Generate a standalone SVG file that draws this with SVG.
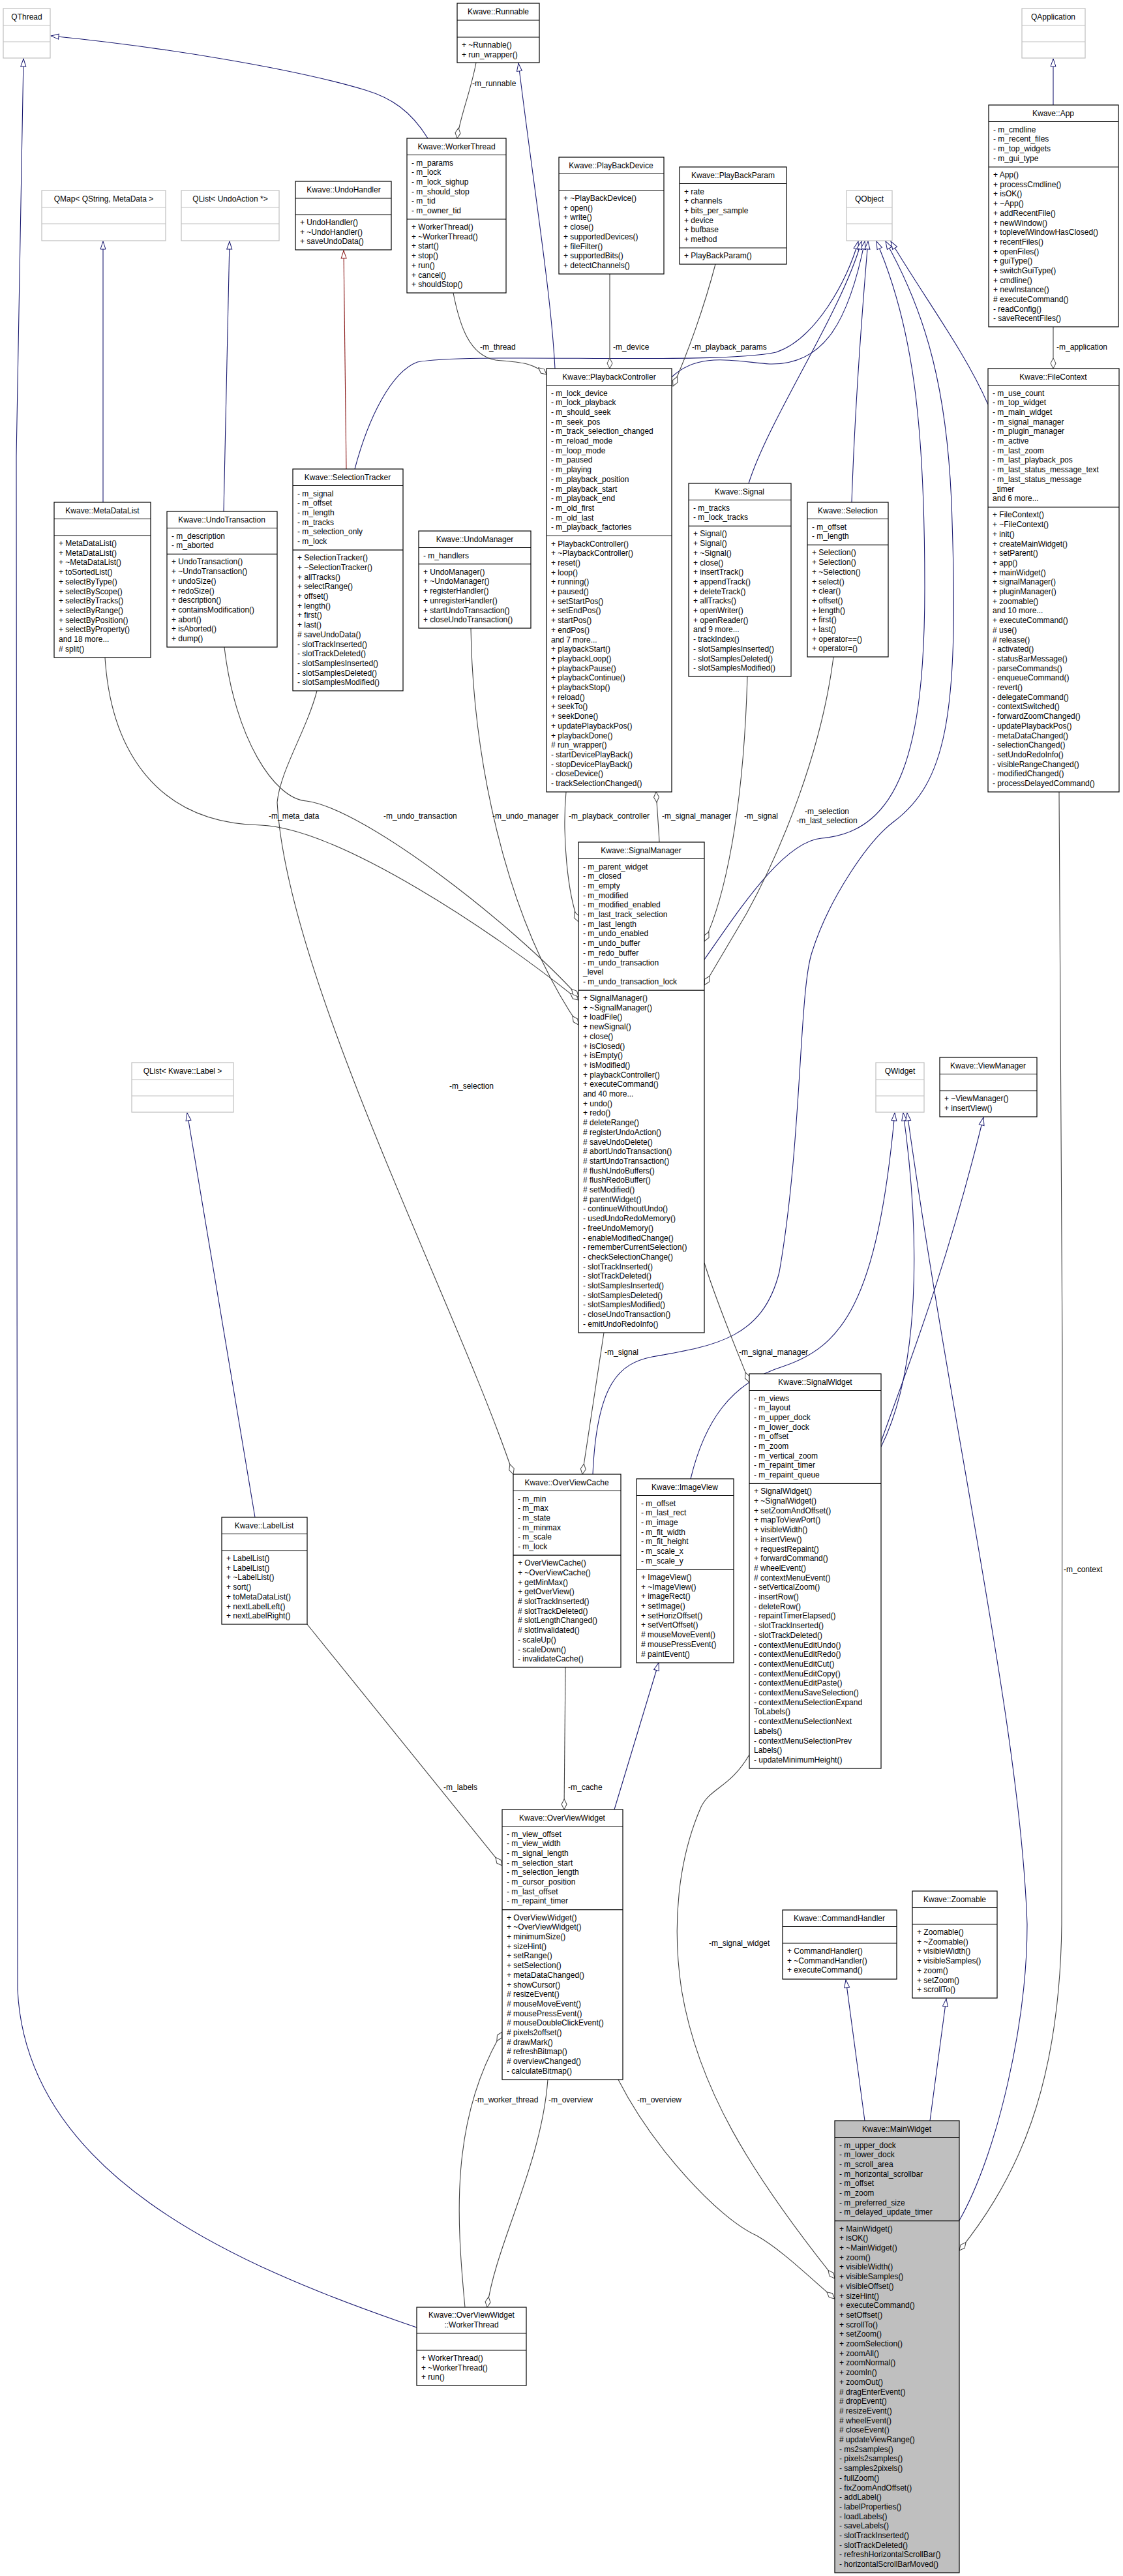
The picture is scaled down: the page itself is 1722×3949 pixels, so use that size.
<svg xmlns="http://www.w3.org/2000/svg" width="1722" height="3949" viewBox="0 0 1722 3949">
<style>
text{font-family:"Liberation Sans",Arial,sans-serif;font-size:12px;fill:#000}
.c{text-anchor:middle}
.k{fill:#fff;stroke:#000;stroke-width:1.2}
.q{fill:#fff;stroke:#bfbfbf;stroke-width:1.2}
.mw{fill:#bfbfbf;stroke:#000;stroke-width:1.2}
.s{stroke:#000;stroke-width:1.2}
.sg{stroke:#bfbfbf;stroke-width:1.2}
.i{fill:none;stroke:#191970;stroke-width:1.1;marker-end:url(#tri)}
.r{fill:none;stroke:#8b1a1a;stroke-width:1.1;marker-end:url(#trir)}
.a{fill:none;stroke:#404040;stroke-width:1.1;marker-end:url(#dia)}
</style>
<defs>
<marker id="tri" markerUnits="userSpaceOnUse" markerWidth="14" markerHeight="10" viewBox="0 0 14 10" refX="13" refY="5" orient="auto"><path d="M1,1 L13,5 L1,9 Z" fill="#fff" stroke="#191970"/></marker>
<marker id="trir" markerUnits="userSpaceOnUse" markerWidth="14" markerHeight="10" viewBox="0 0 14 10" refX="13" refY="5" orient="auto"><path d="M1,1 L13,5 L1,9 Z" fill="#fff" stroke="#8b1a1a"/></marker>
<marker id="dia" markerUnits="userSpaceOnUse" markerWidth="18" markerHeight="10" viewBox="0 0 18 10" refX="17" refY="5" orient="auto"><path d="M1,5 L9,1 L17,5 L9,9 Z" fill="#fff" stroke="#404040"/></marker>
</defs>
<rect width="1722" height="3949" fill="#fff"/>
<g id="edges">
<path class="i" d="M656,212 C630,170 600,150 560,138 C450,105 250,72 78,55"/>
<path class="i" d="M639,3568 C350,3470 40,3330 27,3050 L25,700 L36,90"/>
<path class="i" d="M851,565 C845,450 820,300 795,97"/>
<path class="i" d="M158,770 L158,370"/>
<path class="i" d="M343,784 L352,370"/>
<path class="r" d="M531,719 L527,384"/>
<path class="i" d="M544,719 C565,640 600,570 640,555 C720,540 1100,560 1190,540 C1250,520 1300,430 1316,370"/>
<path class="i" d="M1030,578 C1070,540 1120,553 1180,558 C1260,560 1300,500 1326,370"/>
<path class="i" d="M1148,741 C1180,640 1290,480 1321,370"/>
<path class="i" d="M1306,770 C1310,650 1320,500 1331,370"/>
<path class="i" d="M1080,1471 C1130,1400 1200,1290 1260,1285 C1380,1275 1418,1150 1418,900 C1418,650 1400,500 1344,370"/>
<path class="i" d="M909,2260 C915,2120 950,2090 1000,2080 C1100,2063 1170,2050 1195,1950 C1230,1750 1225,1520 1245,1460 C1270,1380 1330,1290 1370,1260 C1450,1200 1470,1100 1460,800 C1455,600 1420,480 1358,370"/>
<path class="i" d="M1515,620 C1480,540 1420,460 1366,370"/>
<path class="i" d="M1615,161 L1615,90"/>
<path class="i" d="M1351,2218 C1410,2100 1412,1900 1385,1706"/>
<path class="i" d="M1351,2210 C1390,2100 1450,1950 1508,1713"/>
<path class="i" d="M1059,2267 C1080,2180 1120,2120 1200,2095 C1290,2065 1345,2000 1372,1706"/>
<path class="i" d="M1471,3404 C1530,3300 1575,3100 1575,2950 C1565,2650 1460,2200 1391,1706"/>
<path class="i" d="M942,2774 L1010,2549"/>
<path class="i" d="M391,2326 L287,1706"/>
<path class="i" d="M1326,3251 L1297,3035"/>
<path class="i" d="M1426,3251 L1451,3064"/>
<path class="a" d="M730,96 C722,140 705,180 701,212"/>
<path class="a" d="M695,449 C705,500 720,545 760,552 C800,556 815,555 838,574"/>
<path class="a" d="M935,420 L935,565"/>
<path class="a" d="M1097,405 C1080,470 1055,540 1032,592"/>
<path class="a" d="M1615,501 L1615,565"/>
<path class="a" d="M161,1008 C170,1150 240,1262 400,1265 C520,1270 760,1430 887,1533"/>
<path class="a" d="M344,992 C360,1130 420,1225 470,1228 C560,1240 790,1420 887,1528"/>
<path class="a" d="M722,963 C725,1150 770,1400 887,1571"/>
<path class="a" d="M868,1214 C862,1280 870,1370 887,1413"/>
<path class="a" d="M1011,1291 C1010,1270 1008,1245 1006,1214"/>
<path class="a" d="M1146,1037 C1140,1250 1110,1380 1080,1443"/>
<path class="a" d="M1278,1007 C1260,1150 1200,1300 1145,1400 L1080,1510"/>
<path class="a" d="M1080,1936 C1100,2000 1130,2070 1149,2119"/>
<path class="a" d="M926,2043 L893,2260"/>
<path class="a" d="M486,1059 C470,1120 430,1180 425,1230 C440,1500 700,2000 787,2260"/>
<path class="a" d="M867,2556 L865,2774"/>
<path class="a" d="M471,2490 L770,2860"/>
<path class="a" d="M713,3537 C700,3400 690,3250 770,3115"/>
<path class="a" d="M840,3188 C830,3320 760,3440 747,3537"/>
<path class="a" d="M948,3188 C1000,3290 1100,3400 1160,3427 C1200,3450 1240,3490 1280,3524"/>
<path class="a" d="M1149,2690 C1120,2740 1090,2740 1075,2770 C1040,2850 1030,2950 1045,3050 C1070,3200 1150,3330 1280,3493"/>
<path class="a" d="M1624,1214 C1630,1600 1630,2600 1628,2950 C1625,3200 1560,3340 1471,3450"/>
<text x="724" y="132">-m_runnable</text>
<text x="736" y="536">-m_thread</text>
<text x="940" y="536">-m_device</text>
<text x="1061" y="536">-m_playback_params</text>
<text x="1620" y="536">-m_application</text>
<text x="412" y="1255">-m_meta_data</text>
<text x="588" y="1255">-m_undo_transaction</text>
<text x="755" y="1255">-m_undo_manager</text>
<text x="872" y="1255">-m_playback_controller</text>
<text x="1015" y="1255">-m_signal_manager</text>
<text x="1141" y="1255">-m_signal</text>
<text class="c" x="1268" y="1248">-m_selection</text>
<text class="c" x="1268" y="1262">-m_last_selection</text>
<text x="689" y="1669">-m_selection</text>
<text x="927" y="2077">-m_signal</text>
<text x="1133" y="2077">-m_signal_manager</text>
<text x="1631" y="2410">-m_context</text>
<text x="680" y="2744">-m_labels</text>
<text x="871" y="2744">-m_cache</text>
<text x="1087" y="2983">-m_signal_widget</text>
<text x="728" y="3223">-m_worker_thread</text>
<text x="841" y="3223">-m_overview</text>
<text x="977" y="3223">-m_overview</text>
</g>
<g id="QThread"><rect class="q" x="5" y="13" width="72" height="76"/><line class="sg" x1="5" y1="39" x2="77" y2="39"/><line class="sg" x1="5" y1="64" x2="77" y2="64"/><text class="c" x="41" y="30">QThread</text></g>
<g id="Runnable"><rect class="k" x="701" y="5" width="126" height="91"/><line class="s" x1="701" y1="31" x2="827" y2="31"/><line class="s" x1="701" y1="57" x2="827" y2="57"/><text class="c" x="764" y="22">Kwave::Runnable</text><text x="708" y="73"><tspan>+ ~Runnable()</tspan><tspan x="708" dy="14.7">+ run_wrapper()</tspan></text></g>
<g id="WorkerThread"><rect class="k" x="624" y="212" width="152" height="237"/><line class="s" x1="624" y1="237.5" x2="776" y2="237.5"/><line class="s" x1="624" y1="336" x2="776" y2="336"/><text class="c" x="700" y="229">Kwave::WorkerThread</text><text x="631" y="253.5"><tspan>- m_params</tspan><tspan x="631" dy="14.7">- m_lock</tspan><tspan x="631" dy="14.7">- m_lock_sighup</tspan><tspan x="631" dy="14.7">- m_should_stop</tspan><tspan x="631" dy="14.7">- m_tid</tspan><tspan x="631" dy="14.7">- m_owner_tid</tspan></text><text x="631" y="352"><tspan>+ WorkerThread()</tspan><tspan x="631" dy="14.7">+ ~WorkerThread()</tspan><tspan x="631" dy="14.7">+ start()</tspan><tspan x="631" dy="14.7">+ stop()</tspan><tspan x="631" dy="14.7">+ run()</tspan><tspan x="631" dy="14.7">+ cancel()</tspan><tspan x="631" dy="14.7">+ shouldStop()</tspan></text></g>
<g id="QMap"><rect class="q" x="64" y="292" width="190" height="77"/><line class="sg" x1="64" y1="318" x2="254" y2="318"/><line class="sg" x1="64" y1="343" x2="254" y2="343"/><text class="c" x="159" y="309">QMap&lt; QString, MetaData &gt;</text></g>
<g id="QListUndoAction"><rect class="q" x="278" y="292" width="150" height="77"/><line class="sg" x1="278" y1="318" x2="428" y2="318"/><line class="sg" x1="278" y1="343" x2="428" y2="343"/><text class="c" x="353" y="309">QList&lt; UndoAction *&gt;</text></g>
<g id="UndoHandler"><rect class="k" x="453" y="278" width="147" height="105"/><line class="s" x1="453" y1="304" x2="600" y2="304"/><line class="s" x1="453" y1="329" x2="600" y2="329"/><text class="c" x="527" y="295">Kwave::UndoHandler</text><text x="460" y="345"><tspan>+ UndoHandler()</tspan><tspan x="460" dy="14.7">+ ~UndoHandler()</tspan><tspan x="460" dy="14.7">+ saveUndoData()</tspan></text></g>
<g id="PlayBackDevice"><rect class="k" x="857" y="241" width="161" height="179"/><line class="s" x1="857" y1="266.5" x2="1018" y2="266.5"/><line class="s" x1="857" y1="292" x2="1018" y2="292"/><text class="c" x="937" y="258">Kwave::PlayBackDevice</text><text x="864" y="308"><tspan>+ ~PlayBackDevice()</tspan><tspan x="864" dy="14.7">+ open()</tspan><tspan x="864" dy="14.7">+ write()</tspan><tspan x="864" dy="14.7">+ close()</tspan><tspan x="864" dy="14.7">+ supportedDevices()</tspan><tspan x="864" dy="14.7">+ fileFilter()</tspan><tspan x="864" dy="14.7">+ supportedBits()</tspan><tspan x="864" dy="14.7">+ detectChannels()</tspan></text></g>
<g id="PlayBackParam"><rect class="k" x="1042" y="256" width="164" height="149"/><line class="s" x1="1042" y1="281.5" x2="1206" y2="281.5"/><line class="s" x1="1042" y1="380" x2="1206" y2="380"/><text class="c" x="1124" y="273">Kwave::PlayBackParam</text><text x="1049" y="297.5"><tspan>+ rate</tspan><tspan x="1049" dy="14.7">+ channels</tspan><tspan x="1049" dy="14.7">+ bits_per_sample</tspan><tspan x="1049" dy="14.7">+ device</tspan><tspan x="1049" dy="14.7">+ bufbase</tspan><tspan x="1049" dy="14.7">+ method</tspan></text><text x="1049" y="396">+ PlayBackParam()</text></g>
<g id="QObject"><rect class="q" x="1298" y="292" width="70" height="77"/><line class="sg" x1="1298" y1="318" x2="1368" y2="318"/><line class="sg" x1="1298" y1="343" x2="1368" y2="343"/><text class="c" x="1333" y="309">QObject</text></g>
<g id="QApplication"><rect class="q" x="1567" y="13" width="97" height="76"/><line class="sg" x1="1567" y1="39" x2="1664" y2="39"/><line class="sg" x1="1567" y1="64" x2="1664" y2="64"/><text class="c" x="1615" y="30">QApplication</text></g>
<g id="App"><rect class="k" x="1516" y="161" width="199" height="340"/><line class="s" x1="1516" y1="186.5" x2="1715" y2="186.5"/><line class="s" x1="1516" y1="256" x2="1715" y2="256"/><text class="c" x="1615" y="178">Kwave::App</text><text x="1523" y="202.5"><tspan>- m_cmdline</tspan><tspan x="1523" dy="14.7">- m_recent_files</tspan><tspan x="1523" dy="14.7">- m_top_widgets</tspan><tspan x="1523" dy="14.7">- m_gui_type</tspan></text><text x="1523" y="272"><tspan>+ App()</tspan><tspan x="1523" dy="14.7">+ processCmdline()</tspan><tspan x="1523" dy="14.7">+ isOK()</tspan><tspan x="1523" dy="14.7">+ ~App()</tspan><tspan x="1523" dy="14.7">+ addRecentFile()</tspan><tspan x="1523" dy="14.7">+ newWindow()</tspan><tspan x="1523" dy="14.7">+ toplevelWindowHasClosed()</tspan><tspan x="1523" dy="14.7">+ recentFiles()</tspan><tspan x="1523" dy="14.7">+ openFiles()</tspan><tspan x="1523" dy="14.7">+ guiType()</tspan><tspan x="1523" dy="14.7">+ switchGuiType()</tspan><tspan x="1523" dy="14.7">+ cmdline()</tspan><tspan x="1523" dy="14.7">+ newInstance()</tspan><tspan x="1523" dy="14.7"># executeCommand()</tspan><tspan x="1523" dy="14.7">- readConfig()</tspan><tspan x="1523" dy="14.7">- saveRecentFiles()</tspan></text></g>
<g id="PlaybackController"><rect class="k" x="838" y="565" width="192" height="649"/><line class="s" x1="838" y1="590.5" x2="1030" y2="590.5"/><line class="s" x1="838" y1="821.5" x2="1030" y2="821.5"/><text class="c" x="934" y="582">Kwave::PlaybackController</text><text x="845" y="606.5"><tspan>- m_lock_device</tspan><tspan x="845" dy="14.7">- m_lock_playback</tspan><tspan x="845" dy="14.7">- m_should_seek</tspan><tspan x="845" dy="14.7">- m_seek_pos</tspan><tspan x="845" dy="14.7">- m_track_selection_changed</tspan><tspan x="845" dy="14.7">- m_reload_mode</tspan><tspan x="845" dy="14.7">- m_loop_mode</tspan><tspan x="845" dy="14.7">- m_paused</tspan><tspan x="845" dy="14.7">- m_playing</tspan><tspan x="845" dy="14.7">- m_playback_position</tspan><tspan x="845" dy="14.7">- m_playback_start</tspan><tspan x="845" dy="14.7">- m_playback_end</tspan><tspan x="845" dy="14.7">- m_old_first</tspan><tspan x="845" dy="14.7">- m_old_last</tspan><tspan x="845" dy="14.7">- m_playback_factories</tspan></text><text x="845" y="837.5"><tspan>+ PlaybackController()</tspan><tspan x="845" dy="14.7">+ ~PlaybackController()</tspan><tspan x="845" dy="14.7">+ reset()</tspan><tspan x="845" dy="14.7">+ loop()</tspan><tspan x="845" dy="14.7">+ running()</tspan><tspan x="845" dy="14.7">+ paused()</tspan><tspan x="845" dy="14.7">+ setStartPos()</tspan><tspan x="845" dy="14.7">+ setEndPos()</tspan><tspan x="845" dy="14.7">+ startPos()</tspan><tspan x="845" dy="14.7">+ endPos()</tspan><tspan x="845" dy="14.7">and 7 more...</tspan><tspan x="845" dy="14.7">+ playbackStart()</tspan><tspan x="845" dy="14.7">+ playbackLoop()</tspan><tspan x="845" dy="14.7">+ playbackPause()</tspan><tspan x="845" dy="14.7">+ playbackContinue()</tspan><tspan x="845" dy="14.7">+ playbackStop()</tspan><tspan x="845" dy="14.7">+ reload()</tspan><tspan x="845" dy="14.7">+ seekTo()</tspan><tspan x="845" dy="14.7">+ seekDone()</tspan><tspan x="845" dy="14.7">+ updatePlaybackPos()</tspan><tspan x="845" dy="14.7">+ playbackDone()</tspan><tspan x="845" dy="14.7"># run_wrapper()</tspan><tspan x="845" dy="14.7">- startDevicePlayBack()</tspan><tspan x="845" dy="14.7">- stopDevicePlayBack()</tspan><tspan x="845" dy="14.7">- closeDevice()</tspan><tspan x="845" dy="14.7">- trackSelectionChanged()</tspan></text></g>
<g id="FileContext"><rect class="k" x="1515" y="565" width="201" height="649"/><line class="s" x1="1515" y1="590.5" x2="1716" y2="590.5"/><line class="s" x1="1515" y1="777.4" x2="1716" y2="777.4"/><text class="c" x="1615" y="582">Kwave::FileContext</text><text x="1522" y="606.5"><tspan>- m_use_count</tspan><tspan x="1522" dy="14.7">- m_top_widget</tspan><tspan x="1522" dy="14.7">- m_main_widget</tspan><tspan x="1522" dy="14.7">- m_signal_manager</tspan><tspan x="1522" dy="14.7">- m_plugin_manager</tspan><tspan x="1522" dy="14.7">- m_active</tspan><tspan x="1522" dy="14.7">- m_last_zoom</tspan><tspan x="1522" dy="14.7">- m_last_playback_pos</tspan><tspan x="1522" dy="14.7">- m_last_status_message_text</tspan><tspan x="1522" dy="14.7">- m_last_status_message</tspan><tspan x="1522" dy="14.7">_timer</tspan><tspan x="1522" dy="14.7">and 6 more...</tspan></text><text x="1522" y="793.4"><tspan>+ FileContext()</tspan><tspan x="1522" dy="14.7">+ ~FileContext()</tspan><tspan x="1522" dy="14.7">+ init()</tspan><tspan x="1522" dy="14.7">+ createMainWidget()</tspan><tspan x="1522" dy="14.7">+ setParent()</tspan><tspan x="1522" dy="14.7">+ app()</tspan><tspan x="1522" dy="14.7">+ mainWidget()</tspan><tspan x="1522" dy="14.7">+ signalManager()</tspan><tspan x="1522" dy="14.7">+ pluginManager()</tspan><tspan x="1522" dy="14.7">+ zoomable()</tspan><tspan x="1522" dy="14.7">and 10 more...</tspan><tspan x="1522" dy="14.7">+ executeCommand()</tspan><tspan x="1522" dy="14.7"># use()</tspan><tspan x="1522" dy="14.7"># release()</tspan><tspan x="1522" dy="14.7">- activated()</tspan><tspan x="1522" dy="14.7">- statusBarMessage()</tspan><tspan x="1522" dy="14.7">- parseCommands()</tspan><tspan x="1522" dy="14.7">- enqueueCommand()</tspan><tspan x="1522" dy="14.7">- revert()</tspan><tspan x="1522" dy="14.7">- delegateCommand()</tspan><tspan x="1522" dy="14.7">- contextSwitched()</tspan><tspan x="1522" dy="14.7">- forwardZoomChanged()</tspan><tspan x="1522" dy="14.7">- updatePlaybackPos()</tspan><tspan x="1522" dy="14.7">- metaDataChanged()</tspan><tspan x="1522" dy="14.7">- selectionChanged()</tspan><tspan x="1522" dy="14.7">- setUndoRedoInfo()</tspan><tspan x="1522" dy="14.7">- visibleRangeChanged()</tspan><tspan x="1522" dy="14.7">- modifiedChanged()</tspan><tspan x="1522" dy="14.7">- processDelayedCommand()</tspan></text></g>
<g id="MetaDataList"><rect class="k" x="83" y="770" width="148" height="238"/><line class="s" x1="83" y1="795.5" x2="231" y2="795.5"/><line class="s" x1="83" y1="821" x2="231" y2="821"/><text class="c" x="157" y="787">Kwave::MetaDataList</text><text x="90" y="837"><tspan>+ MetaDataList()</tspan><tspan x="90" dy="14.7">+ MetaDataList()</tspan><tspan x="90" dy="14.7">+ ~MetaDataList()</tspan><tspan x="90" dy="14.7">+ toSortedList()</tspan><tspan x="90" dy="14.7">+ selectByType()</tspan><tspan x="90" dy="14.7">+ selectByScope()</tspan><tspan x="90" dy="14.7">+ selectByTracks()</tspan><tspan x="90" dy="14.7">+ selectByRange()</tspan><tspan x="90" dy="14.7">+ selectByPosition()</tspan><tspan x="90" dy="14.7">+ selectByProperty()</tspan><tspan x="90" dy="14.7">and 18 more...</tspan><tspan x="90" dy="14.7"># split()</tspan></text></g>
<g id="UndoTransaction"><rect class="k" x="256" y="784" width="169" height="208"/><line class="s" x1="256" y1="809.5" x2="425" y2="809.5"/><line class="s" x1="256" y1="849.4" x2="425" y2="849.4"/><text class="c" x="340" y="801">Kwave::UndoTransaction</text><text x="263" y="825.5"><tspan>- m_description</tspan><tspan x="263" dy="14.7">- m_aborted</tspan></text><text x="263" y="865.4"><tspan>+ UndoTransaction()</tspan><tspan x="263" dy="14.7">+ ~UndoTransaction()</tspan><tspan x="263" dy="14.7">+ undoSize()</tspan><tspan x="263" dy="14.7">+ redoSize()</tspan><tspan x="263" dy="14.7">+ description()</tspan><tspan x="263" dy="14.7">+ containsModification()</tspan><tspan x="263" dy="14.7">+ abort()</tspan><tspan x="263" dy="14.7">+ isAborted()</tspan><tspan x="263" dy="14.7">+ dump()</tspan></text></g>
<g id="SelectionTracker"><rect class="k" x="449" y="719" width="169" height="340"/><line class="s" x1="449" y1="744.5" x2="618" y2="744.5"/><line class="s" x1="449" y1="843.2" x2="618" y2="843.2"/><text class="c" x="533" y="736">Kwave::SelectionTracker</text><text x="456" y="760.5"><tspan>- m_signal</tspan><tspan x="456" dy="14.7">- m_offset</tspan><tspan x="456" dy="14.7">- m_length</tspan><tspan x="456" dy="14.7">- m_tracks</tspan><tspan x="456" dy="14.7">- m_selection_only</tspan><tspan x="456" dy="14.7">- m_lock</tspan></text><text x="456" y="859.2"><tspan>+ SelectionTracker()</tspan><tspan x="456" dy="14.7">+ ~SelectionTracker()</tspan><tspan x="456" dy="14.7">+ allTracks()</tspan><tspan x="456" dy="14.7">+ selectRange()</tspan><tspan x="456" dy="14.7">+ offset()</tspan><tspan x="456" dy="14.7">+ length()</tspan><tspan x="456" dy="14.7">+ first()</tspan><tspan x="456" dy="14.7">+ last()</tspan><tspan x="456" dy="14.7"># saveUndoData()</tspan><tspan x="456" dy="14.7">- slotTrackInserted()</tspan><tspan x="456" dy="14.7">- slotTrackDeleted()</tspan><tspan x="456" dy="14.7">- slotSamplesInserted()</tspan><tspan x="456" dy="14.7">- slotSamplesDeleted()</tspan><tspan x="456" dy="14.7">- slotSamplesModified()</tspan></text></g>
<g id="UndoManager"><rect class="k" x="642" y="814" width="172" height="149"/><line class="s" x1="642" y1="839.5" x2="814" y2="839.5"/><line class="s" x1="642" y1="864.7" x2="814" y2="864.7"/><text class="c" x="728" y="831">Kwave::UndoManager</text><text x="649" y="855.5">- m_handlers</text><text x="649" y="880.7"><tspan>+ UndoManager()</tspan><tspan x="649" dy="14.7">+ ~UndoManager()</tspan><tspan x="649" dy="14.7">+ registerHandler()</tspan><tspan x="649" dy="14.7">+ unregisterHandler()</tspan><tspan x="649" dy="14.7">+ startUndoTransaction()</tspan><tspan x="649" dy="14.7">+ closeUndoTransaction()</tspan></text></g>
<g id="Signal"><rect class="k" x="1056" y="741" width="157" height="296"/><line class="s" x1="1056" y1="766.5" x2="1213" y2="766.5"/><line class="s" x1="1056" y1="806.4" x2="1213" y2="806.4"/><text class="c" x="1134" y="758">Kwave::Signal</text><text x="1063" y="782.5"><tspan>- m_tracks</tspan><tspan x="1063" dy="14.7">- m_lock_tracks</tspan></text><text x="1063" y="822.4"><tspan>+ Signal()</tspan><tspan x="1063" dy="14.7">+ Signal()</tspan><tspan x="1063" dy="14.7">+ ~Signal()</tspan><tspan x="1063" dy="14.7">+ close()</tspan><tspan x="1063" dy="14.7">+ insertTrack()</tspan><tspan x="1063" dy="14.7">+ appendTrack()</tspan><tspan x="1063" dy="14.7">+ deleteTrack()</tspan><tspan x="1063" dy="14.7">+ allTracks()</tspan><tspan x="1063" dy="14.7">+ openWriter()</tspan><tspan x="1063" dy="14.7">+ openReader()</tspan><tspan x="1063" dy="14.7">and 9 more...</tspan><tspan x="1063" dy="14.7">- trackIndex()</tspan><tspan x="1063" dy="14.7">- slotSamplesInserted()</tspan><tspan x="1063" dy="14.7">- slotSamplesDeleted()</tspan><tspan x="1063" dy="14.7">- slotSamplesModified()</tspan></text></g>
<g id="Selection"><rect class="k" x="1238" y="770" width="124" height="237"/><line class="s" x1="1238" y1="795.5" x2="1362" y2="795.5"/><line class="s" x1="1238" y1="835.4" x2="1362" y2="835.4"/><text class="c" x="1300" y="787">Kwave::Selection</text><text x="1245" y="811.5"><tspan>- m_offset</tspan><tspan x="1245" dy="14.7">- m_length</tspan></text><text x="1245" y="851.4"><tspan>+ Selection()</tspan><tspan x="1245" dy="14.7">+ Selection()</tspan><tspan x="1245" dy="14.7">+ ~Selection()</tspan><tspan x="1245" dy="14.7">+ select()</tspan><tspan x="1245" dy="14.7">+ clear()</tspan><tspan x="1245" dy="14.7">+ offset()</tspan><tspan x="1245" dy="14.7">+ length()</tspan><tspan x="1245" dy="14.7">+ first()</tspan><tspan x="1245" dy="14.7">+ last()</tspan><tspan x="1245" dy="14.7">+ operator==()</tspan><tspan x="1245" dy="14.7">+ operator=()</tspan></text></g>
<g id="SignalManager"><rect class="k" x="887" y="1291" width="193" height="752"/><line class="s" x1="887" y1="1316.5" x2="1080" y2="1316.5"/><line class="s" x1="887" y1="1518.1" x2="1080" y2="1518.1"/><text class="c" x="983" y="1308">Kwave::SignalManager</text><text x="894" y="1332.5"><tspan>- m_parent_widget</tspan><tspan x="894" dy="14.7">- m_closed</tspan><tspan x="894" dy="14.7">- m_empty</tspan><tspan x="894" dy="14.7">- m_modified</tspan><tspan x="894" dy="14.7">- m_modified_enabled</tspan><tspan x="894" dy="14.7">- m_last_track_selection</tspan><tspan x="894" dy="14.7">- m_last_length</tspan><tspan x="894" dy="14.7">- m_undo_enabled</tspan><tspan x="894" dy="14.7">- m_undo_buffer</tspan><tspan x="894" dy="14.7">- m_redo_buffer</tspan><tspan x="894" dy="14.7">- m_undo_transaction</tspan><tspan x="894" dy="14.7">_level</tspan><tspan x="894" dy="14.7">- m_undo_transaction_lock</tspan></text><text x="894" y="1534"><tspan>+ SignalManager()</tspan><tspan x="894" dy="14.7">+ ~SignalManager()</tspan><tspan x="894" dy="14.7">+ loadFile()</tspan><tspan x="894" dy="14.7">+ newSignal()</tspan><tspan x="894" dy="14.7">+ close()</tspan><tspan x="894" dy="14.7">+ isClosed()</tspan><tspan x="894" dy="14.7">+ isEmpty()</tspan><tspan x="894" dy="14.7">+ isModified()</tspan><tspan x="894" dy="14.7">+ playbackController()</tspan><tspan x="894" dy="14.7">+ executeCommand()</tspan><tspan x="894" dy="14.7">and 40 more...</tspan><tspan x="894" dy="14.7">+ undo()</tspan><tspan x="894" dy="14.7">+ redo()</tspan><tspan x="894" dy="14.7"># deleteRange()</tspan><tspan x="894" dy="14.7"># registerUndoAction()</tspan><tspan x="894" dy="14.7"># saveUndoDelete()</tspan><tspan x="894" dy="14.7"># abortUndoTransaction()</tspan><tspan x="894" dy="14.7"># startUndoTransaction()</tspan><tspan x="894" dy="14.7"># flushUndoBuffers()</tspan><tspan x="894" dy="14.7"># flushRedoBuffer()</tspan><tspan x="894" dy="14.7"># setModified()</tspan><tspan x="894" dy="14.7"># parentWidget()</tspan><tspan x="894" dy="14.7">- continueWithoutUndo()</tspan><tspan x="894" dy="14.7">- usedUndoRedoMemory()</tspan><tspan x="894" dy="14.7">- freeUndoMemory()</tspan><tspan x="894" dy="14.7">- enableModifiedChange()</tspan><tspan x="894" dy="14.7">- rememberCurrentSelection()</tspan><tspan x="894" dy="14.7">- checkSelectionChange()</tspan><tspan x="894" dy="14.7">- slotTrackInserted()</tspan><tspan x="894" dy="14.7">- slotTrackDeleted()</tspan><tspan x="894" dy="14.7">- slotSamplesInserted()</tspan><tspan x="894" dy="14.7">- slotSamplesDeleted()</tspan><tspan x="894" dy="14.7">- slotSamplesModified()</tspan><tspan x="894" dy="14.7">- closeUndoTransaction()</tspan><tspan x="894" dy="14.7">- emitUndoRedoInfo()</tspan></text></g>
<g id="QListLabel"><rect class="q" x="202" y="1629" width="156" height="76"/><line class="sg" x1="202" y1="1655" x2="358" y2="1655"/><line class="sg" x1="202" y1="1680" x2="358" y2="1680"/><text class="c" x="280" y="1646">QList&lt; Kwave::Label &gt;</text></g>
<g id="QWidget"><rect class="q" x="1343" y="1629" width="74" height="76"/><line class="sg" x1="1343" y1="1655" x2="1417" y2="1655"/><line class="sg" x1="1343" y1="1680" x2="1417" y2="1680"/><text class="c" x="1380" y="1646">QWidget</text></g>
<g id="ViewManager"><rect class="k" x="1441" y="1621" width="149" height="91"/><line class="s" x1="1441" y1="1646.5" x2="1590" y2="1646.5"/><line class="s" x1="1441" y1="1672" x2="1590" y2="1672"/><text class="c" x="1515" y="1638">Kwave::ViewManager</text><text x="1448" y="1688"><tspan>+ ~ViewManager()</tspan><tspan x="1448" dy="14.7">+ insertView()</tspan></text></g>
<g id="SignalWidget"><rect class="k" x="1149" y="2106" width="202" height="605"/><line class="s" x1="1149" y1="2131.5" x2="1351" y2="2131.5"/><line class="s" x1="1149" y1="2274.3" x2="1351" y2="2274.3"/><text class="c" x="1250" y="2123">Kwave::SignalWidget</text><text x="1156" y="2147.5"><tspan>- m_views</tspan><tspan x="1156" dy="14.7">- m_layout</tspan><tspan x="1156" dy="14.7">- m_upper_dock</tspan><tspan x="1156" dy="14.7">- m_lower_dock</tspan><tspan x="1156" dy="14.7">- m_offset</tspan><tspan x="1156" dy="14.7">- m_zoom</tspan><tspan x="1156" dy="14.7">- m_vertical_zoom</tspan><tspan x="1156" dy="14.7">- m_repaint_timer</tspan><tspan x="1156" dy="14.7">- m_repaint_queue</tspan></text><text x="1156" y="2290.3"><tspan>+ SignalWidget()</tspan><tspan x="1156" dy="14.7">+ ~SignalWidget()</tspan><tspan x="1156" dy="14.7">+ setZoomAndOffset()</tspan><tspan x="1156" dy="14.7">+ mapToViewPort()</tspan><tspan x="1156" dy="14.7">+ visibleWidth()</tspan><tspan x="1156" dy="14.7">+ insertView()</tspan><tspan x="1156" dy="14.7">+ requestRepaint()</tspan><tspan x="1156" dy="14.7">+ forwardCommand()</tspan><tspan x="1156" dy="14.7"># wheelEvent()</tspan><tspan x="1156" dy="14.7"># contextMenuEvent()</tspan><tspan x="1156" dy="14.7">- setVerticalZoom()</tspan><tspan x="1156" dy="14.7">- insertRow()</tspan><tspan x="1156" dy="14.7">- deleteRow()</tspan><tspan x="1156" dy="14.7">- repaintTimerElapsed()</tspan><tspan x="1156" dy="14.7">- slotTrackInserted()</tspan><tspan x="1156" dy="14.7">- slotTrackDeleted()</tspan><tspan x="1156" dy="14.7">- contextMenuEditUndo()</tspan><tspan x="1156" dy="14.7">- contextMenuEditRedo()</tspan><tspan x="1156" dy="14.7">- contextMenuEditCut()</tspan><tspan x="1156" dy="14.7">- contextMenuEditCopy()</tspan><tspan x="1156" dy="14.7">- contextMenuEditPaste()</tspan><tspan x="1156" dy="14.7">- contextMenuSaveSelection()</tspan><tspan x="1156" dy="14.7">- contextMenuSelectionExpand</tspan><tspan x="1156" dy="14.7">ToLabels()</tspan><tspan x="1156" dy="14.7">- contextMenuSelectionNext</tspan><tspan x="1156" dy="14.7">Labels()</tspan><tspan x="1156" dy="14.7">- contextMenuSelectionPrev</tspan><tspan x="1156" dy="14.7">Labels()</tspan><tspan x="1156" dy="14.7">- updateMinimumHeight()</tspan></text></g>
<g id="LabelList"><rect class="k" x="340" y="2326" width="131" height="164"/><line class="s" x1="340" y1="2351.5" x2="471" y2="2351.5"/><line class="s" x1="340" y1="2377" x2="471" y2="2377"/><text class="c" x="405" y="2343">Kwave::LabelList</text><text x="347" y="2393"><tspan>+ LabelList()</tspan><tspan x="347" dy="14.7">+ LabelList()</tspan><tspan x="347" dy="14.7">+ ~LabelList()</tspan><tspan x="347" dy="14.7">+ sort()</tspan><tspan x="347" dy="14.7">+ toMetaDataList()</tspan><tspan x="347" dy="14.7">+ nextLabelLeft()</tspan><tspan x="347" dy="14.7">+ nextLabelRight()</tspan></text></g>
<g id="OverViewCache"><rect class="k" x="787" y="2260" width="165" height="296"/><line class="s" x1="787" y1="2285.5" x2="952" y2="2285.5"/><line class="s" x1="787" y1="2384.2" x2="952" y2="2384.2"/><text class="c" x="869" y="2277">Kwave::OverViewCache</text><text x="794" y="2301.5"><tspan>- m_min</tspan><tspan x="794" dy="14.7">- m_max</tspan><tspan x="794" dy="14.7">- m_state</tspan><tspan x="794" dy="14.7">- m_minmax</tspan><tspan x="794" dy="14.7">- m_scale</tspan><tspan x="794" dy="14.7">- m_lock</tspan></text><text x="794" y="2400.2"><tspan>+ OverViewCache()</tspan><tspan x="794" dy="14.7">+ ~OverViewCache()</tspan><tspan x="794" dy="14.7">+ getMinMax()</tspan><tspan x="794" dy="14.7">+ getOverView()</tspan><tspan x="794" dy="14.7"># slotTrackInserted()</tspan><tspan x="794" dy="14.7"># slotTrackDeleted()</tspan><tspan x="794" dy="14.7"># slotLengthChanged()</tspan><tspan x="794" dy="14.7"># slotInvalidated()</tspan><tspan x="794" dy="14.7">- scaleUp()</tspan><tspan x="794" dy="14.7">- scaleDown()</tspan><tspan x="794" dy="14.7">- invalidateCache()</tspan></text></g>
<g id="ImageView"><rect class="k" x="976" y="2267" width="149" height="282"/><line class="s" x1="976" y1="2292.5" x2="1125" y2="2292.5"/><line class="s" x1="976" y1="2405.9" x2="1125" y2="2405.9"/><text class="c" x="1050" y="2284">Kwave::ImageView</text><text x="983" y="2308.5"><tspan>- m_offset</tspan><tspan x="983" dy="14.7">- m_last_rect</tspan><tspan x="983" dy="14.7">- m_image</tspan><tspan x="983" dy="14.7">- m_fit_width</tspan><tspan x="983" dy="14.7">- m_fit_height</tspan><tspan x="983" dy="14.7">- m_scale_x</tspan><tspan x="983" dy="14.7">- m_scale_y</tspan></text><text x="983" y="2421.9"><tspan>+ ImageView()</tspan><tspan x="983" dy="14.7">+ ~ImageView()</tspan><tspan x="983" dy="14.7">+ imageRect()</tspan><tspan x="983" dy="14.7">+ setImage()</tspan><tspan x="983" dy="14.7">+ setHorizOffset()</tspan><tspan x="983" dy="14.7">+ setVertOffset()</tspan><tspan x="983" dy="14.7"># mouseMoveEvent()</tspan><tspan x="983" dy="14.7"># mousePressEvent()</tspan><tspan x="983" dy="14.7"># paintEvent()</tspan></text></g>
<g id="OverViewWidget"><rect class="k" x="770" y="2774" width="185" height="414"/><line class="s" x1="770" y1="2799.5" x2="955" y2="2799.5"/><line class="s" x1="770" y1="2927.6" x2="955" y2="2927.6"/><text class="c" x="862" y="2791">Kwave::OverViewWidget</text><text x="777" y="2815.5"><tspan>- m_view_offset</tspan><tspan x="777" dy="14.7">- m_view_width</tspan><tspan x="777" dy="14.7">- m_signal_length</tspan><tspan x="777" dy="14.7">- m_selection_start</tspan><tspan x="777" dy="14.7">- m_selection_length</tspan><tspan x="777" dy="14.7">- m_cursor_position</tspan><tspan x="777" dy="14.7">- m_last_offset</tspan><tspan x="777" dy="14.7">- m_repaint_timer</tspan></text><text x="777" y="2943.6"><tspan>+ OverViewWidget()</tspan><tspan x="777" dy="14.7">+ ~OverViewWidget()</tspan><tspan x="777" dy="14.7">+ minimumSize()</tspan><tspan x="777" dy="14.7">+ sizeHint()</tspan><tspan x="777" dy="14.7">+ setRange()</tspan><tspan x="777" dy="14.7">+ setSelection()</tspan><tspan x="777" dy="14.7">+ metaDataChanged()</tspan><tspan x="777" dy="14.7">+ showCursor()</tspan><tspan x="777" dy="14.7"># resizeEvent()</tspan><tspan x="777" dy="14.7"># mouseMoveEvent()</tspan><tspan x="777" dy="14.7"># mousePressEvent()</tspan><tspan x="777" dy="14.7"># mouseDoubleClickEvent()</tspan><tspan x="777" dy="14.7"># pixels2offset()</tspan><tspan x="777" dy="14.7"># drawMark()</tspan><tspan x="777" dy="14.7"># refreshBitmap()</tspan><tspan x="777" dy="14.7"># overviewChanged()</tspan><tspan x="777" dy="14.7">- calculateBitmap()</tspan></text></g>
<g id="CommandHandler"><rect class="k" x="1200" y="2928" width="175" height="106"/><line class="s" x1="1200" y1="2953.5" x2="1375" y2="2953.5"/><line class="s" x1="1200" y1="2979" x2="1375" y2="2979"/><text class="c" x="1287" y="2945">Kwave::CommandHandler</text><text x="1207" y="2995"><tspan>+ CommandHandler()</tspan><tspan x="1207" dy="14.7">+ ~CommandHandler()</tspan><tspan x="1207" dy="14.7">+ executeCommand()</tspan></text></g>
<g id="Zoomable"><rect class="k" x="1399" y="2899" width="130" height="164"/><line class="s" x1="1399" y1="2924.5" x2="1529" y2="2924.5"/><line class="s" x1="1399" y1="2950" x2="1529" y2="2950"/><text class="c" x="1464" y="2916">Kwave::Zoomable</text><text x="1406" y="2966"><tspan>+ Zoomable()</tspan><tspan x="1406" dy="14.7">+ ~Zoomable()</tspan><tspan x="1406" dy="14.7">+ visibleWidth()</tspan><tspan x="1406" dy="14.7">+ visibleSamples()</tspan><tspan x="1406" dy="14.7">+ zoom()</tspan><tspan x="1406" dy="14.7">+ setZoom()</tspan><tspan x="1406" dy="14.7">+ scrollTo()</tspan></text></g>
<g id="MainWidget"><rect class="mw" x="1280" y="3251" width="191" height="693"/><line class="s" x1="1280" y1="3276.5" x2="1471" y2="3276.5"/><line class="s" x1="1280" y1="3404.6" x2="1471" y2="3404.6"/><text class="c" x="1375" y="3268">Kwave::MainWidget</text><text x="1287" y="3292.5"><tspan>- m_upper_dock</tspan><tspan x="1287" dy="14.7">- m_lower_dock</tspan><tspan x="1287" dy="14.7">- m_scroll_area</tspan><tspan x="1287" dy="14.7">- m_horizontal_scrollbar</tspan><tspan x="1287" dy="14.7">- m_offset</tspan><tspan x="1287" dy="14.7">- m_zoom</tspan><tspan x="1287" dy="14.7">- m_preferred_size</tspan><tspan x="1287" dy="14.7">- m_delayed_update_timer</tspan></text><text x="1287" y="3420.6"><tspan>+ MainWidget()</tspan><tspan x="1287" dy="14.7">+ isOK()</tspan><tspan x="1287" dy="14.7">+ ~MainWidget()</tspan><tspan x="1287" dy="14.7">+ zoom()</tspan><tspan x="1287" dy="14.7">+ visibleWidth()</tspan><tspan x="1287" dy="14.7">+ visibleSamples()</tspan><tspan x="1287" dy="14.7">+ visibleOffset()</tspan><tspan x="1287" dy="14.7">+ sizeHint()</tspan><tspan x="1287" dy="14.7">+ executeCommand()</tspan><tspan x="1287" dy="14.7">+ setOffset()</tspan><tspan x="1287" dy="14.7">+ scrollTo()</tspan><tspan x="1287" dy="14.7">+ setZoom()</tspan><tspan x="1287" dy="14.7">+ zoomSelection()</tspan><tspan x="1287" dy="14.7">+ zoomAll()</tspan><tspan x="1287" dy="14.7">+ zoomNormal()</tspan><tspan x="1287" dy="14.7">+ zoomIn()</tspan><tspan x="1287" dy="14.7">+ zoomOut()</tspan><tspan x="1287" dy="14.7"># dragEnterEvent()</tspan><tspan x="1287" dy="14.7"># dropEvent()</tspan><tspan x="1287" dy="14.7"># resizeEvent()</tspan><tspan x="1287" dy="14.7"># wheelEvent()</tspan><tspan x="1287" dy="14.7"># closeEvent()</tspan><tspan x="1287" dy="14.7"># updateViewRange()</tspan><tspan x="1287" dy="14.7">- ms2samples()</tspan><tspan x="1287" dy="14.7">- pixels2samples()</tspan><tspan x="1287" dy="14.7">- samples2pixels()</tspan><tspan x="1287" dy="14.7">- fullZoom()</tspan><tspan x="1287" dy="14.7">- fixZoomAndOffset()</tspan><tspan x="1287" dy="14.7">- addLabel()</tspan><tspan x="1287" dy="14.7">- labelProperties()</tspan><tspan x="1287" dy="14.7">- loadLabels()</tspan><tspan x="1287" dy="14.7">- saveLabels()</tspan><tspan x="1287" dy="14.7">- slotTrackInserted()</tspan><tspan x="1287" dy="14.7">- slotTrackDeleted()</tspan><tspan x="1287" dy="14.7">- refreshHorizontalScrollBar()</tspan><tspan x="1287" dy="14.7">- horizontalScrollBarMoved()</tspan></text></g>
<g id="OverViewWorkerThread"><rect class="k" x="639" y="3537" width="168" height="120"/><line class="s" x1="639" y1="3577" x2="807" y2="3577"/><line class="s" x1="639" y1="3603" x2="807" y2="3603"/><text class="c" x="723" y="3553">Kwave::OverViewWidget</text><text class="c" x="723" y="3568">::WorkerThread</text><text x="646" y="3619"><tspan>+ WorkerThread()</tspan><tspan x="646" dy="14.7">+ ~WorkerThread()</tspan><tspan x="646" dy="14.7">+ run()</tspan></text></g>
</svg>
